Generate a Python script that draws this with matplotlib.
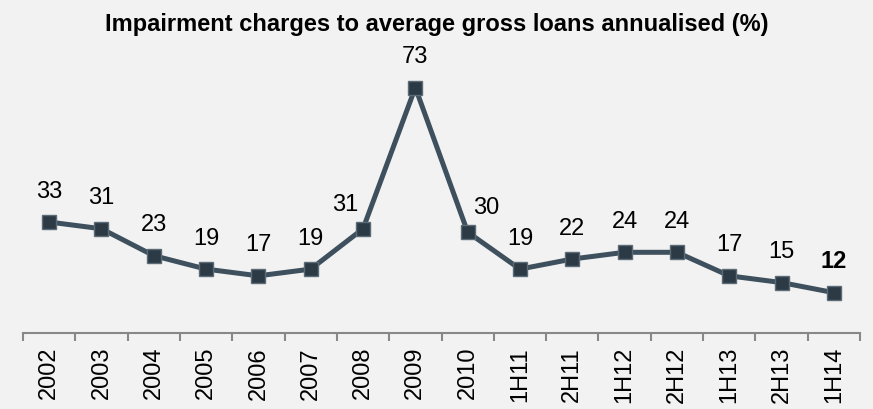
import matplotlib
matplotlib.use("Agg")
import matplotlib.pyplot as plt
import numpy as np

plt.rcParams['font.family'] = ['Liberation Sans', 'DejaVu Sans']

periods = ["2002", "2003", "2004", "2005", "2006", "2007", "2008", "2009",
           "2010", "1H11", "2H11", "1H12", "2H12", "1H13", "2H13", "1H14"]
values = [33, 31, 23, 19, 17, 19, 31, 73, 30, 19, 22, 24, 24, 17, 15, 12]

bg = "#f2f2f2"
line_col = "#3e505d"

fig = plt.figure(figsize=(8.73, 4.09), dpi=100, facecolor=bg)
ax = fig.add_axes([23/873, 1 - 333/409, (860 - 23)/873, (333 - 64)/409], facecolor=bg)

x = np.arange(len(values))
ax.plot(x, values, color=line_col, lw=3.6, marker="s", markersize=10,
        markerfacecolor="#2b3a44", markeredgecolor="#5c6b75", markeredgewidth=1, zorder=3)

# labels beside the steep segments around the 2009 peak are nudged sideways
nudges = {"2008": (-13, 9.5), "2010": (13, 9.5)}

for i, (p, v) in enumerate(zip(periods, values)):
    bold = (i == len(values) - 1)
    dx, dy = nudges.get(p, (0, 14))
    ax.annotate(str(v), (i, v), xytext=(dx, dy), textcoords="offset points",
                ha="center", va="bottom", fontsize=17,
                fontweight="bold" if bold else "normal", color="black")

ax.set_xlim(-0.5, len(values) - 0.5)
ax.set_ylim(0, 80)
ax.set_yticks([])

ax.set_xticks(x)
ax.set_xticklabels(periods, rotation=90, fontsize=17)
ax.tick_params(axis="x", which="major", length=0, pad=10)
ax.set_xticks(np.arange(-0.5, len(values), 1), minor=True)
ax.tick_params(axis="x", which="minor", length=6, width=1.5, color="#888888")

for s in ["top", "right", "left"]:
    ax.spines[s].set_visible(False)
ax.spines["bottom"].set_color("#888888")
ax.spines["bottom"].set_linewidth(1.5)

fig.text(0.5, 1 - 25/409, "Impairment charges to average gross loans annualised (%)",
         ha="center", va="center", fontsize=17, fontweight="bold")

fig.savefig("out.png", dpi=100, facecolor=bg)
